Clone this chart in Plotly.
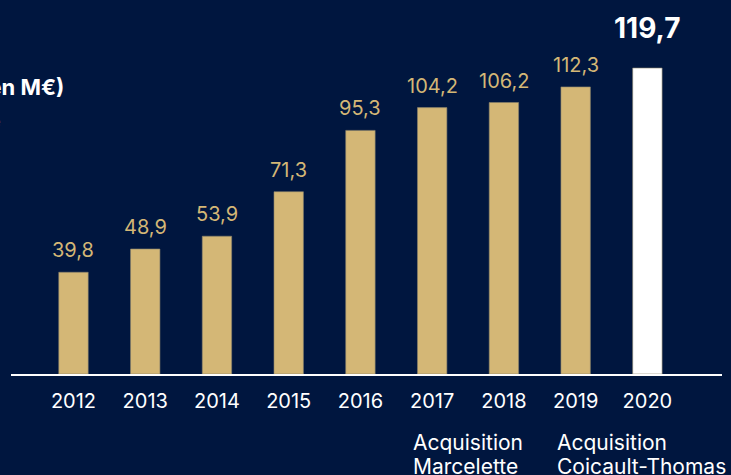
import plotly.graph_objects as go

years = ['2012', '2013', '2014', '2015', '2016', '2017', '2018', '2019', '2020']
revenue = [39.8, 48.9, 53.9, 71.3, 95.3, 104.2, 106.2, 112.3, 119.7]
labels = ['39,8', '48,9', '53,9', '71,3', '95,3', '104,2', '106,2', '112,3', '119,7']
acquisitions = {'2017': ['Acquisition', 'Marcelette'],
                '2019': ['Acquisition', 'Coicault-Thomas']}

navy = '#00163F'
gold = '#D4B776'
font = 'Inter, Lato, sans-serif'

colors = [gold] * (len(years) - 1) + ['#FFFFFF']

fig = go.Figure()
fig.add_trace(go.Bar(x=years, y=revenue,
                     marker=dict(color=colors, line=dict(color='#8a836c', width=0.6)),
                     hoverinfo='skip'))

# value labels above bars (x as category index, '2012' would be read as a number)
for i, (v, lab) in enumerate(zip(revenue, labels)):
    last = i == len(years) - 1
    fig.add_annotation(x=i, y=v, text=f'<b>{lab}</b>' if last else lab,
                       showarrow=False, yanchor='bottom',
                       yshift=21 if last else 8,
                       font=dict(family=font, size=28 if last else 20,
                                 color='#FFFFFF' if last else gold))

# acquisition notes under the axis, one annotation per line for tighter spacing
for yr, lines in acquisitions.items():
    for k, line in enumerate(lines):
        fig.add_annotation(x=years.index(yr), y=0, text=line, showarrow=False,
                           xanchor='left', yanchor='top',
                           xshift=-21, yshift=-54 - 24 * k,
                           font=dict(family=font, size=21, color='#FFFFFF'))

# cropped title on the left
fig.add_annotation(xref='paper', yref='paper', x=(66 - 11) / 711, y=(374 - 87) / 374,
                   text="<b>Chiffre d'affaires (en M€)</b>", showarrow=False,
                   xanchor='right', yanchor='middle',
                   font=dict(family=font, size=22, color='#FFFFFF'))
fig.add_annotation(xref='paper', yref='paper', x=(3 - 11) / 711, y=(374 - 122) / 374,
                   text='consolidé', showarrow=False,
                   xanchor='right', yanchor='middle',
                   font=dict(family=font, size=15, color='#FFFFFF'))

fig.update_layout(
    width=731, height=475,
    margin=dict(l=11, r=9, t=0, b=101),
    paper_bgcolor=navy, plot_bgcolor=navy,
    bargap=0.59, showlegend=False,
    xaxis=dict(type='category', range=[-0.871, 9.04],
               showline=True, linecolor='#FFFFFF', linewidth=2,
               ticks='outside', ticklen=8, tickcolor=navy,
               tickfont=dict(family=font, size=20, color='#FFFFFF'),
               showgrid=False, zeroline=False),
    yaxis=dict(range=[0, 146.3], visible=False, showgrid=False, zeroline=False),
)

fig.write_html("out.html", config={'displayModeBar': False},
               post_script="document.body.style.margin='0';")
